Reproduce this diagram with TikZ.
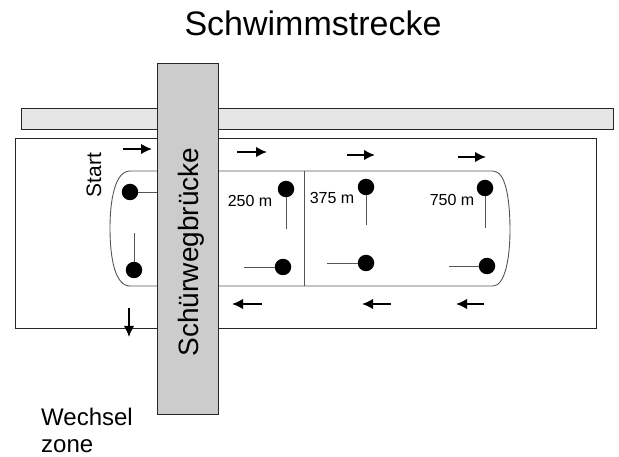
\documentclass[tikz,border=0pt]{standalone}
\usepackage{fontspec}
\setmainfont{Liberation Sans}
\usetikzlibrary{arrows.meta}
\definecolor{bridgegray}{HTML}{CCCCCC}
\definecolor{bargray}{HTML}{E6E6E6}
\definecolor{linegray}{HTML}{555555}
\tikzset{
  buoy/.style={circle,fill=black,draw=none,minimum size=16.5pt,inner sep=0pt},
  buoyline/.style={draw=linegray,line width=0.9pt},
  arr/.style={line width=1.8pt,-{Latex[length=11pt,width=10.5pt]}},
  frame/.style={draw=black!85,line width=0.9pt},
  lbl/.style={inner sep=0pt,font=\fontsize{16}{18}\selectfont},
}
\begin{document}
\begin{tikzpicture}[x=1pt,y=-1pt]
\useasboundingbox (0,0) rectangle (619,457);
% outer field
\draw[frame] (15,138) rectangle (596,328);
% top bar
\draw[frame,fill=bargray] (21,108) rectangle (613,129);
% track
\draw[buoyline] (130,171) -- (493,171)
  .. controls (507,171) and (510,205) .. (510,230)
  .. controls (510,258) and (505,286) .. (493,286)
  -- (130,286)
  .. controls (115,286) and (110,258) .. (110,228)
  .. controls (110,200) and (115,171) .. (130,171) -- cycle;
\draw[buoyline] (304,171) -- (304,286);
% buoys
\node[buoy] (s1) at (130,192) {};
\node[buoy] (s2) at (134,270) {};
\node[buoy] (a1) at (286,189) {};
\node[buoy] (a2) at (283,267) {};
\node[buoy] (b1) at (366,187) {};
\node[buoy] (b2) at (366,263) {};
\node[buoy] (c1) at (485,188) {};
\node[buoy] (c2) at (487,266) {};
\coordinate (s1e) at (160,192);
\coordinate (s2e) at (134,233);
\coordinate (a1e) at (286,229);
\coordinate (a2e) at (244,267);
\coordinate (b1e) at (366,225);
\coordinate (b2e) at (327,263);
\coordinate (c1e) at (485,228);
\coordinate (c2e) at (449,266);
\draw[buoyline] (s1) -- (s1e);
\draw[buoyline] (s2) -- (s2e);
\draw[buoyline] (a1) -- (a1e);
\draw[buoyline] (a2) -- (a2e);
\draw[buoyline] (b1) -- (b1e);
\draw[buoyline] (b2) -- (b2e);
\draw[buoyline] (c1) -- (c1e);
\draw[buoyline] (c2) -- (c2e);
% arrows
\draw[arr] (123,149) -- (152,149);
\draw[arr] (237,152) -- (267,152);
\draw[arr] (347,155) -- (375,155);
\draw[arr] (458,157) -- (486,157);
\draw[arr] (262,304) -- (232,304);
\draw[arr] (391,304) -- (362,304);
\draw[arr] (484,304) -- (456,304);
\draw[arr] (129,308) -- (129,337);
% bridge
\draw[frame,fill=bridgegray] (157,63) rectangle (218,414);
% texts
\node[inner sep=0pt,anchor=base,font=\fontsize{34}{38}\selectfont] (title) at (313,36) {Schwimmstrecke};
\node[inner sep=0pt,anchor=base,rotate=90,font=\fontsize{28}{32}\selectfont] (bridge) at (198,252) {Schürwegbrücke};
\node[inner sep=0pt,anchor=base,rotate=90,font=\fontsize{21}{24}\selectfont] (start) at (101,175) {Start};
\node[lbl,anchor=base] (l250) at (250,207) {250 m};
\node[lbl,anchor=base] (l375) at (332,204) {375 m};
\node[lbl,anchor=base] (l750) at (452,206) {750 m};
\node[inner sep=0pt,anchor=base west,font=\fontsize{24}{28}\selectfont] (wechsel) at (41,425) {Wechsel};
\node[inner sep=0pt,anchor=base west,font=\fontsize{24}{28}\selectfont] (zone) at (41,452) {zone};
\end{tikzpicture}
\end{document}
